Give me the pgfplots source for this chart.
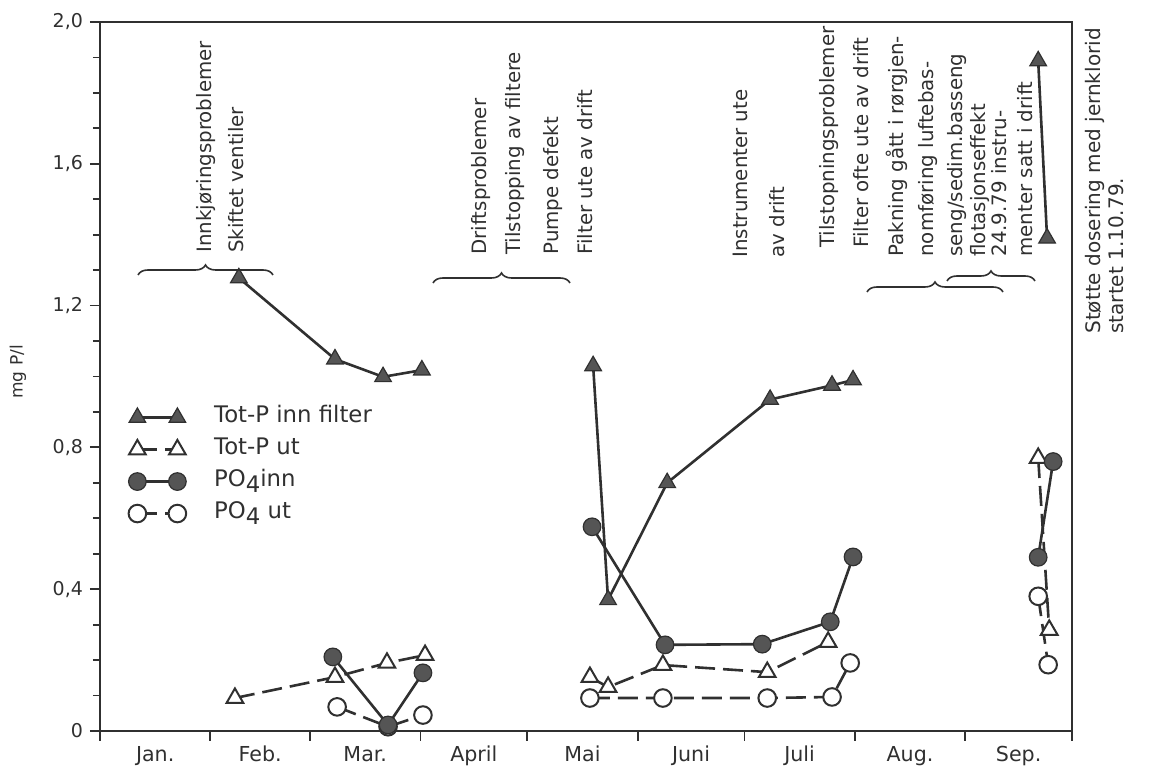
\documentclass[border=0pt]{standalone}
\usepackage{fontspec}
\setmainfont{DejaVu Sans}
\usepackage{pgfplots}
\pgfplotsset{compat=1.18}
\usetikzlibrary{decorations.pathreplacing}

\definecolor{ink}{HTML}{303030}
\definecolor{markfill}{HTML}{555555}

% series styles
\pgfplotsset{
  totin/.style={ink, line width=1.3pt, mark=triangle*, mark size=4.8pt,
    mark options={solid, fill=markfill, draw=ink, line width=0.6pt}},
  totut/.style={ink, line width=1.3pt, dash pattern=on 10pt off 4pt, mark=triangle*, mark size=4.8pt,
    mark options={solid, fill=white, draw=ink, line width=1pt}},
  po4in/.style={ink, line width=1.3pt, mark=*, mark size=4.4pt,
    mark options={solid, fill=markfill, draw=ink, line width=0.6pt}},
  po4ut/.style={ink, line width=1.3pt, dash pattern=on 10pt off 4pt, mark=*, mark size=4.4pt,
    mark options={solid, fill=white, draw=ink, line width=1pt}},
}

% rotated note: px x (column centre), px y (bottom end), text
\newcommand{\note}[3]{\node[rotate=90, anchor=mid west, inner sep=0pt, text=ink,
  font=\fontsize{9.9}{12}\selectfont] at ({(#1-100)/2},{(731-#2)/2}) {#3};}
% brace: px x1, px x2, px y of the ends
\newcommand{\brc}[3]{\draw[ink, line width=0.8pt, decorate, decoration={brace, amplitude=5pt}]
  ({(#1-100)/2},{(731-#3)/2}) -- ({(#2-100)/2},{(731-#3)/2});}
\newcommand{\four}{\raisebox{-0.45ex}{4}}

\begin{document}
\begin{tikzpicture}[x=1pt,y=1pt]
\path (-50,-21.5) rectangle (524.5,365.5);
\begin{axis}[
  scale only axis, width=486pt, height=354.5pt,
  xmin=0, xmax=273, ymin=0, ymax=2,
  clip=false,
  unbounded coords=jump,
  axis line style={ink, line width=1pt},
  tick style={ink, line width=0.9pt},
  tick align=outside, tick pos=left,
  major tick length=5pt, minor tick length=3.5pt,
  xtick={0,31,59,90,120,151,181,212,243,273}, xticklabels={},
  extra x ticks={15.5,45,74.5,105,135.5,166,196.5,227.5,258},
  extra x tick labels={Jan.,Feb.,Mar.,April,Mai,Juni,Juli,Aug.,Sep.},
  extra x tick style={tick style={draw=none}},
  ytick={0,0.4,0.8,1.2,1.6,2.0},
  yticklabels={0,{0,4},{0,8},{1,2},{1,6},{2,0}},
  minor y tick num=3,
  y tick label style={font=\fontsize{9.5}{11}\selectfont, text=ink},
  x tick label style={font=\fontsize{10.3}{12}\selectfont, text=ink, yshift=1pt},
  legend style={at={(axis description cs:0.029,0.461)}, anchor=north west,
    draw=none, fill=none, inner sep=0pt, text=ink,
    font=\fontsize{11.4}{13}\selectfont, row sep=3pt,
    nodes={inner sep=1pt, text height=8pt, text depth=3pt},
    /tikz/every odd column/.append style={column sep=13pt}},
  legend cell align=left,
  legend image code/.code={\draw[#1] plot coordinates {(0pt,0pt) (20pt,0pt)};},
]
\addlegendimage{totin}\addlegendentry{Tot-P inn filter}
\addlegendimage{totut}\addlegendentry{Tot-P ut}
\addlegendimage{po4in}\addlegendentry{PO\four inn}
\addlegendimage{po4ut}\addlegendentry{PO\four\ ut}

\addplot[po4ut, forget plot] coordinates {
  (66.6,0.068) (80.9,0.012) (90.7,0.045) (100,nan)
  (137.6,0.093) (158.1,0.093) (187.4,0.093) (205.6,0.096) (210.7,0.192) (240,nan)
  (263.5,0.38) (266.3,0.187)};
\addplot[totut, forget plot] coordinates {
  (37.9,0.093) (66.0,0.152) (80.6,0.192) (91.3,0.214) (100,nan)
  (137.6,0.152) (142.7,0.124) (158.1,0.186) (187.4,0.166) (204.5,0.251) (240,nan)
  (263.5,0.77) (266.6,0.285)};
\addplot[totin, forget plot] coordinates {
  (39.0,1.278) (66.0,1.049) (79.5,0.999) (90.4,1.018) (100,nan)
  (138.5,1.03) (142.7,0.37) (159.3,0.70) (188.2,0.935) (205.6,0.975) (211.5,0.99) (240,nan)
  (263.5,1.89) (266.0,1.39)};
\addplot[po4in, forget plot] coordinates {
  (65.4,0.209) (80.9,0.017) (90.7,0.164) (100,nan)
  (138.2,0.576) (158.7,0.243) (186.0,0.245) (205.1,0.308) (211.5,0.491) (240,nan)
  (263.5,0.49) (267.7,0.76)};
\end{axis}

% y label
\node[rotate=90, text=ink, font=\fontsize{8.5}{10}\selectfont] at ({(18-100)/2},{(731-372)/2}) {mg P/l};

% notes
\note{206}{253}{Innkjøringsproblemer}
\note{238}{253}{Skiftet ventiler}
\brc{138}{273}{275}
\note{481}{255}{Driftsproblemer}
\note{515}{255}{Tilstopping av filtere}
\note{553}{255}{Pumpe defekt}
\note{587}{255}{Filter ute av drift}
\brc{433}{570}{283}
\note{742}{258}{Instrumenter ute}
\note{779}{258}{av drift}
\note{829}{248}{Tilstopningsproblemer}
\note{863}{248}{Filter ofte ute av drift}
\note{898}{257}{Pakning gått i rørgjen-}
\note{928}{257}{nomføring luftebas-}
\note{957}{257}{seng/sedim.basseng}
\note{980}{257}{flotasjonseffekt}
\note{1001}{257}{24.9.79 instru-}
\note{1027}{257}{menter satt i drift}
\brc{867}{1003}{292}
\brc{947}{1035}{281}

% right-hand note
\node[rotate=90, anchor=mid west, inner sep=0pt, text=ink, font=\fontsize{10}{12}\selectfont]
  at ({(1095-100)/2},{(731-334)/2}) {Støtte dosering med jernklorid};
\node[rotate=90, anchor=mid west, inner sep=0pt, text=ink, font=\fontsize{10}{12}\selectfont]
  at ({(1118-100)/2},{(731-334)/2}) {startet 1.10.79.};
\end{tikzpicture}
\end{document}
